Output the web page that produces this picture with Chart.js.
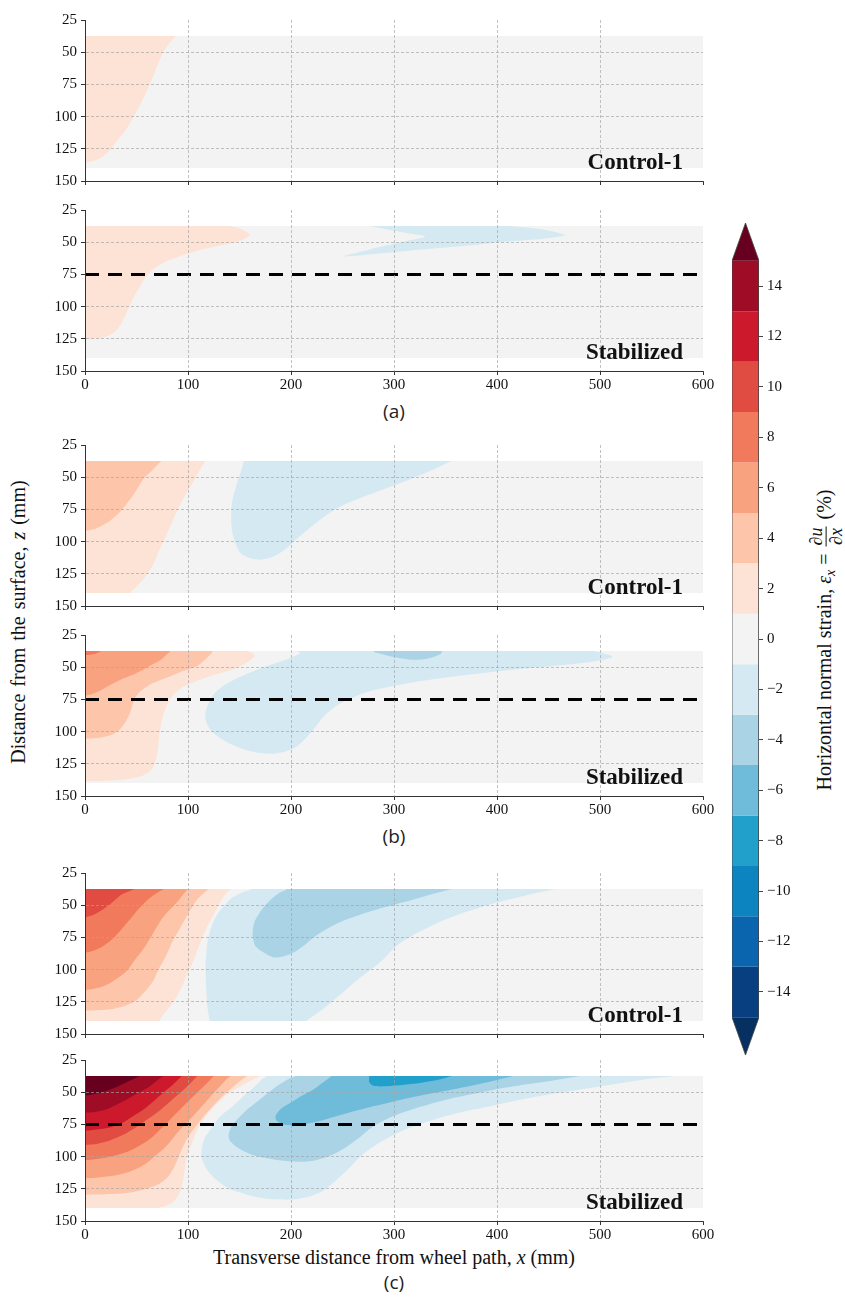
<!DOCTYPE html>
<html>
<head>
<meta charset="utf-8">
<script src="https://cdn.jsdelivr.net/npm/chart.js@4.4.1/dist/chart.umd.min.js"></script>
<style>
  html, body { margin: 0; padding: 0; background: #fff; }
  body { width: 845px; height: 1308px; position: relative; overflow: hidden;
         font-family: "Liberation Serif", "Times New Roman", serif; color: #111; }
  canvas { position: absolute; }
  .txt { position: absolute; white-space: nowrap; transform: translate(-50%, -50%); }
  .cap { font-family: "Open Sans", "Noto Sans", sans-serif; font-size: 19px; color: #222; }
  .axt { font-size: 20px; color: #111; }
  .rot { transform: translate(-50%, -50%) rotate(-90deg); }
  .frac { display: inline-block; vertical-align: middle; text-align: center; font-size: 18px; line-height: 1.05; margin: 0 2px; }
  .frac span { display: block; padding: 0 1px; }
  .frac .num { border-bottom: 1px solid #111; }
  sub { font-size: 14px; vertical-align: -4px; line-height: 0; }
</style>
</head>
<body>
<div class="txt cap" style="left:394px; top:411px;">(a)</div>
<div class="txt cap" style="left:394px; top:836px;">(b)</div>
<div class="txt cap" style="left:394px; top:1282px;">(c)</div>
<div class="txt axt" style="left:394px; top:1257px;">Transverse distance from wheel path, <i>x</i> (mm)</div>
<div class="txt axt rot" style="left:18px; top:622px; word-spacing:2px;">Distance from the surface, <i>z</i> (mm)</div>
<div class="txt axt rot" style="left:826px; top:640px;">Horizontal normal strain, <i>ε</i><sub><i>x</i></sub> = <span class="frac"><span class="num">∂<i>u</i></span><span>∂<i>x</i></span></span> (%)</div>

<script>
// ---- axes ----
const X_TICKS = [0, 100, 200, 300, 400, 500, 600];
const Z_TICKS = [25, 50, 75, 100, 125, 150];
const FIELD_X = [0, 600];      // extent of the measured strain field
const FIELD_Z = [37.5, 140];
const INTERFACE_Z = 75;        // stabilized layer boundary depth (mm)
const CBAR_TICKS = [-14, -12, -10, -8, -6, -4, -2, 0, 2, 4, 6, 8, 10, 12, 14];
const BAND_CENTRES = [-16, -14, -12, -10, -8, -6, -4, -2, 0, 2, 4, 6, 8, 10, 12, 14, 16];

// ---- contour boundaries, [x (mm), z (mm)] ----
// (a) Control-1
const A_CTRL_P2 = [[88,37.5],[82,43],[76,50],[70,61],[64,73],[56,87],[48,99],[40,110],[32,118],[23,127],[13,133],[4,135.3],[0,135.5]];
// (a) Stabilized
const A_STAB_P2 = [[141,37.5],[152,40],[160,44.5],[152,48.5],[135,52],[112,56],[92,61],[74,67],[61,75],[52,86],[44,98],[38,109],[30,119],[18,124],[8,125],[0,125]];
const A_STAB_N2 = [[413,37.5],[445,40.3],[466,44.5],[445,47.3],[413,49.3],[367,53],[330,55.5],[303,57.5],[270,60],[251,61],[268,57.5],[290,53],[312,49],[330,45.5],[312,42.8],[295,40.3],[280,38],[277,37.5]];
// (b) Control-1
const B_CTRL_P2 = [[117,37.5],[111,45],[104,55],[98,63],[92,72],[85,84],[79,95],[72,107],[66,118],[58,128],[50,135],[44,140]];
const B_CTRL_P4 = [[74,37.5],[65,45],[57,51],[50,60],[44,67],[35,76],[27,82],[18,87],[10,90],[0,91.5]];
const B_CTRL_N2 = [[356,37.5],[330,47],[308,54],[285,61],[265,67],[250,72],[239,77],[225,85],[213,93],[204,99],[196,105],[187,110],[178,113],[170,114],[163,113.5],[155,111],[150,108],[146,101],[143,93],[142,85],[142,77],[143,68],[146,59],[149,51],[152,44],[154,37.5]];
// (b) Stabilized
const B_STAB_P2 = [[158,37.5],[165,41],[158,46],[144,51.5],[125,56],[104,62],[90,68],[81,77],[75,90],[72,104],[70,118],[65,129],[55,134.5],[40,137],[20,138.2],[0,138.5]];
const B_STAB_P4 = [[124,37.5],[122,40],[109,49],[95,53],[83,57],[70,61],[61,64.5],[52,70],[47,77],[44,85],[39,93],[33,99],[24,103],[12,105],[0,105.4]];
const B_STAB_P6 = [[83,37.5],[74,44],[65,48],[57,51.8],[46,56],[35,59.5],[24,64],[15,68],[6,71],[0,72]];
const B_STAB_P8 = [[16,37.5],[11,39.3],[5,40.3],[0,40.5]];
const B_STAB_N2 = [[495,37.5],[512,42],[480,47],[415,52],[350,58],[310,63],[275,69],[248,78],[232,88],[220,100],[205,112],[185,117],[165,116],[148,112],[135,107],[122,99],[117,90],[118,82],[124,72],[135,64],[152,57],[170,51],[188,46],[202,42],[209,39],[206,37.5]];
const B_STAB_N4 = [[347,37.5],[345,40],[332,43.5],[318,44.2],[302,42.5],[288,39.8],[280,37.5]];
// (c) Control-1
const C_CTRL_P2 = [[141.6,37.5],[137,41],[133,45.4],[125,57],[117.7,68.4],[111,81],[104.8,94],[98,106],[91.8,117],[85,126],[79,132],[75,136],[72.3,140]];
const C_CTRL_P4 = [[120,37.5],[115,41],[109,45.4],[100,57],[91.8,68.4],[85,78],[79,88.8],[72,99],[66,109],[57,118],[48.5,124.5],[35,129],[22.5,131],[0,132]];
const C_CTRL_P6 = [[100,37.5],[96,41],[91.8,45.4],[83,53],[74.5,60.7],[66,72],[57,83.7],[48,93],[40,101.5],[29,108],[18,113],[8,115],[0,115.6]];
const C_CTRL_P8 = [[76.6,37.5],[69,41],[61.5,45.4],[52,53],[44,60.7],[35,69],[27,76],[18,81.5],[9.5,85],[0,86.7]];
const C_CTRL_P10 = [[48.5,37.5],[42,39.5],[35.5,41.6],[29,46],[22.5,50.5],[15,54.5],[9.5,57],[0,59.4]];
const C_CTRL_N2 = [[457.6,37.5],[430,42],[395,49],[360,58],[330,68.4],[305,80],[287,94],[266,107],[248,119.4],[232,130],[220,137],[215,140],[213,147],[121,147],[121,140],[119,130],[117.7,114],[117,100],[117.7,88.8],[119,78],[122,68.4],[127,59],[135,50.5],[143,44],[152,40.3],[161,37.5]];
const C_CTRL_N4 = [[356,37.5],[330,43],[308,48],[285,53],[265,58],[248,63],[234.6,68.4],[222,75],[213,81],[202,87],[191.3,90],[184,90.5],[178,88.8],[170,85],[165,81],[163,75],[163,68.4],[165,62],[169.7,55.6],[175,50],[182.7,44],[189,40.3],[195.7,37.5]];
// (c) Stabilized
const C_STAB_P2 = [[170,37.5],[160,41.5],[150,46],[140,50.5],[133,55],[120,66],[110,78],[103,91],[98,103],[96,115],[93,126],[87,134],[78,138.5],[72,140]];
const C_STAB_P4 = [[157.5,37.5],[151,41],[144.5,45.4],[131,55],[118.5,65.8],[108,76],[99,86.2],[92,98],[86,109],[79,117],[69.8,122],[55,126],[40.6,128.3],[20,129.3],[0,129.6]];
const C_STAB_P6 = [[141,37.5],[135,42],[128,48],[115,59.5],[102,71],[90,81],[79.5,91.3],[68,99.5],[57,106.6],[44,111.5],[31,114.3],[15,116],[0,116.8]];
const C_STAB_P8 = [[125,37.5],[119,42.5],[112,48],[99,58],[86,68.4],[75,77.5],[63.3,86.2],[52,92],[40.6,96.4],[27,99.5],[14.6,101.5],[0,102.8]];
const C_STAB_P10 = [[109,37.5],[103,42.5],[96,48],[83,57],[70,65.8],[58,72.5],[47,78.6],[36,83.5],[24,87.5],[12,90],[0,90.8]];
const C_STAB_P12 = [[94,37.5],[88,42],[79.5,48],[68,56],[57,63.3],[47,68.5],[37,73.5],[26,77],[14.6,78.6],[0,80]];
const C_STAB_P14 = [[76,37.5],[70,41],[63,45.4],[52,50.5],[40.6,55.6],[31,59.5],[21,63.3],[10,65.3],[0,65.8]];
const C_STAB_P16 = [[53,37.5],[45,40.5],[36,44],[26,47.5],[15,50.5],[6,52],[0,52.5]];
const C_STAB_N2 = [[572,37.5],[540,40.5],[481,48],[435,54],[394.8,60.7],[360,66.5],[330,73.5],[305,81],[286.6,88.8],[270,98],[256.3,109],[243,119],[230,127],[215,131.5],[200,133.4],[185,133.2],[169.7,132],[155,129],[139.4,124.5],[126,117],[117.7,109],[113.4,101],[113.4,93.9],[116,86],[122,78.6],[131,69],[143.7,60.7],[154,53],[165,45.4],[171,40.5],[176,37.5]];
const C_STAB_N4 = [[481,37.5],[450,41.5],[416,45.4],[385,50],[351.5,55.6],[325,61.5],[299.6,68.4],[280,76.5],[265,86.2],[252,93.5],[239,99],[226,102.5],[213,104],[195,103.5],[178,101.5],[162,98.5],[150,94],[141,88],[139.4,83.7],[142,77],[148,71],[158,63],[169.7,55.6],[180,49],[191,42.9],[198,39.5],[204,37.5]];
const C_STAB_N6 = [[416,37.5],[395,41.5],[373,45.4],[340,50.5],[308,55.6],[280,61],[256,66],[238,70],[221.6,73.5],[205,75.3],[192,75],[186,72],[185,68.4],[190,63],[200,58],[210,53],[221.6,48],[230,43],[236,39.5],[239,37.5]];
const C_STAB_N8 = [[356,37.5],[345,40],[328,42.5],[310,44.3],[292,45.4],[280,45],[276,42],[276,37.5]];

// ---- palette (diverging red/blue, one colour per band) ----
const BAND_COLORS = ['#053061', '#083f80', '#0b64ae', '#0b84bf', '#22a0cc', '#6fbcda', '#aad4e6', '#d5e9f2',
                     '#f3f3f3',
                     '#fde3d5', '#fdc5aa', '#f9a27f', '#f17a5c', '#e04b42', '#cc1a2c', '#9e0d25', '#67001f'];
const colorFor = lvl => BAND_COLORS[BAND_CENTRES.indexOf(lvl)];

// ---- panels ----
const PANELS = [
  { top: 17,   label: 'Control-1',  stab: false, xLabels: false, regions: [[2, A_CTRL_P2]] },
  { top: 207,  label: 'Stabilized', stab: true,  xLabels: true,  regions: [[2, A_STAB_P2], [-2, A_STAB_N2]] },
  { top: 442,  label: 'Control-1',  stab: false, xLabels: false, regions: [[2, B_CTRL_P2], [4, B_CTRL_P4], [-2, B_CTRL_N2]] },
  { top: 632,  label: 'Stabilized', stab: true,  xLabels: true,
    regions: [[2, B_STAB_P2], [4, B_STAB_P4], [6, B_STAB_P6], [8, B_STAB_P8], [-2, B_STAB_N2], [-4, B_STAB_N4]] },
  { top: 870,  label: 'Control-1',  stab: false, xLabels: false,
    regions: [[2, C_CTRL_P2], [4, C_CTRL_P4], [6, C_CTRL_P6], [8, C_CTRL_P8], [10, C_CTRL_P10], [-2, C_CTRL_N2], [-4, C_CTRL_N4]] },
  { top: 1057, label: 'Stabilized', stab: true,  xLabels: true,
    regions: [[2, C_STAB_P2], [4, C_STAB_P4], [6, C_STAB_P6], [8, C_STAB_P8], [10, C_STAB_P10], [12, C_STAB_P12], [14, C_STAB_P14], [16, C_STAB_P16],
              [-2, C_STAB_N2], [-4, C_STAB_N4], [-6, C_STAB_N6], [-8, C_STAB_N8]] },
];

const SERIF = '"Liberation Serif", "Times New Roman", serif';
Chart.defaults.font.family = SERIF;
Chart.defaults.font.size = 15;
Chart.defaults.color = '#111';

// Close a boundary curve around the outside of the field so it can be filled as a shape.
function toPolygon(curve) {
  const pts = curve.map(([x, z]) => ({ x, y: z }));
  const first = curve[0], last = curve[curve.length - 1];
  const above = FIELD_Z[0] - 8, below = FIELD_Z[1] + 8, outside = FIELD_X[0] - 15;
  if (last[1] >= FIELD_Z[1]) pts.push({ x: last[0], y: below }, { x: outside, y: below }, { x: outside, y: above });
  else if (last[0] <= FIELD_X[0]) pts.push({ x: outside, y: last[1] }, { x: outside, y: above });
  else pts.push({ x: last[0], y: above });
  pts.push({ x: first[0], y: above });
  return pts;
}

// Restrict the filled bands to the measured field rectangle.
const fieldClip = {
  id: 'fieldClip',
  beforeDatasetsDraw(chart) {
    const { x, y } = chart.scales, ctx = chart.ctx;
    const l = x.getPixelForValue(FIELD_X[0]), r = x.getPixelForValue(FIELD_X[1]);
    const t = y.getPixelForValue(FIELD_Z[0]), b = y.getPixelForValue(FIELD_Z[1]);
    ctx.save();
    ctx.beginPath();
    ctx.rect(l, t, r - l, b - t);
    ctx.clip();
  },
  afterDatasetsDraw(chart) { chart.ctx.restore(); }
};

const panelTag = {
  id: 'panelTag',
  afterDraw(chart, args, opts) {
    const { ctx, chartArea } = chart;
    ctx.save();
    ctx.font = 'bold 23px ' + SERIF;
    ctx.fillStyle = '#111';
    ctx.textAlign = 'right';
    ctx.textBaseline = 'alphabetic';
    ctx.fillText(opts.text, chartArea.right - 20, chartArea.bottom - 12);
    ctx.restore();
  }
};

const GRID = 'rgba(165,165,165,0.85)';
const NONE = 'rgba(0,0,0,0)';
const TICK_FONT = { family: SERIF, size: 15 };

function makePanel(p) {
  const cv = document.createElement('canvas');
  const W = 720, H = 202;
  cv.width = W; cv.height = H;
  cv.style.left = '0px';
  cv.style.top = (p.top - 10) + 'px';
  cv.style.width = W + 'px'; cv.style.height = H + 'px';
  document.body.appendChild(cv);

  const ds = [];
  ds.push({ data: [{ x: FIELD_X[0], y: FIELD_Z[0] }, { x: FIELD_X[1], y: FIELD_Z[0] }, { x: FIELD_X[1], y: FIELD_Z[1] }, { x: FIELD_X[0], y: FIELD_Z[1] }],
            backgroundColor: colorFor(0), borderWidth: 0, fill: 'shape', tension: 0, pointRadius: 0 });
  for (const [lvl, curve] of p.regions) {
    ds.push({ data: toPolygon(curve), backgroundColor: colorFor(lvl), borderColor: NONE, borderWidth: 0,
              fill: 'shape', tension: 0.3, pointRadius: 0 });
  }
  if (p.stab) {
    ds.push({ data: [{ x: FIELD_X[0], y: INTERFACE_Z }, { x: FIELD_X[1], y: INTERFACE_Z }],
              borderColor: '#000', borderWidth: 3, borderDash: [14, 9], fill: false, tension: 0, pointRadius: 0 });
  }
  // earlier datasets are painted last by Chart.js, so order them bottom-up explicitly
  ds.forEach((d, i) => { d.order = ds.length - i; });

  const gridOpts = (keep) => ({
    z: 1,
    color: c => (c.tick && keep(c.tick.value)) ? GRID : NONE,
    lineWidth: 0.8, tickBorderDash: [], tickColor: '#333', tickWidth: 1, tickLength: 4
  });
  const borderOpts = { display: true, color: '#333', width: 1, z: 1, dash: [3, 2] };

  new Chart(cv, {
    type: 'line',
    data: { datasets: ds },
    plugins: [fieldClip, panelTag],
    options: {
      responsive: false, animation: false, devicePixelRatio: 1,
      layout: { padding: { left: 0, right: 17, top: 10, bottom: 0 } },
      plugins: { legend: { display: false }, tooltip: { enabled: false }, panelTag: { text: p.label } },
      scales: {
        x: {
          type: 'linear', min: 0, max: 600,
          afterBuildTicks: s => { s.ticks = X_TICKS.map(v => ({ value: v })); },
          afterFit: s => { s.height = 28; },
          grid: gridOpts(v => v > 0 && v < 600),
          border: borderOpts,
          ticks: { z: 1, display: p.xLabels, maxRotation: 0, autoSkip: false, padding: 1, color: '#111', font: TICK_FONT, callback: v => String(v) }
        },
        y: {
          type: 'linear', min: 25, max: 150, reverse: true,
          afterBuildTicks: s => { s.ticks = Z_TICKS.map(v => ({ value: v })); },
          afterFit: s => { s.width = 85; },
          // the interface line already marks z = 75 in the stabilized panels
          grid: gridOpts(v => v > 25 && v < 150 && !(p.stab && v === INTERFACE_Z)),
          border: borderOpts,
          ticks: { z: 1, autoSkip: false, padding: 4, color: '#111', font: TICK_FONT, callback: v => String(v) }
        }
      }
    }
  });
}
PANELS.forEach(makePanel);

// ---- colour bar ----
(function makeColorbar() {
  const cv = document.createElement('canvas');
  const W = 145, H = 860;
  cv.width = W; cv.height = H;
  cv.style.left = '700px'; cv.style.top = '210px';
  cv.style.width = W + 'px'; cv.style.height = H + 'px';
  document.body.appendChild(cv);

  const lo = CBAR_TICKS[0] - 1, hi = CBAR_TICKS[CBAR_TICKS.length - 1] + 1;   // -15 .. 15
  const tip = 1.5;
  const ds = [];
  BAND_CENTRES.forEach((c, i) => {
    let pts;
    if (c < lo) pts = [{ x: 0, y: lo }, { x: 1, y: lo }, { x: 0.5, y: lo - tip }];
    else if (c > hi) pts = [{ x: 0, y: hi }, { x: 1, y: hi }, { x: 0.5, y: hi + tip }];
    else pts = [{ x: 0, y: c - 1 }, { x: 1, y: c - 1 }, { x: 1, y: c + 1 }, { x: 0, y: c + 1 }];
    ds.push({ data: pts, backgroundColor: BAND_COLORS[i], borderWidth: 0, fill: 'shape', tension: 0, pointRadius: 0 });
  });
  ds.push({ data: [{ x: 0, y: lo }, { x: 0, y: hi }, { x: 0.5, y: hi + tip }, { x: 1, y: hi }, { x: 1, y: lo }, { x: 0.5, y: lo - tip }, { x: 0, y: lo }],
            borderColor: '#444', borderWidth: 0.8, fill: false, tension: 0, pointRadius: 0 });
  ds.forEach((d, i) => { d.order = ds.length - i; });

  new Chart(cv, {
    type: 'line',
    data: { datasets: ds },
    options: {
      responsive: false, animation: false, devicePixelRatio: 1,
      layout: { padding: { left: 32, right: 0, top: 13, bottom: 15 } },
      plugins: { legend: { display: false }, tooltip: { enabled: false } },
      scales: {
        x: { type: 'linear', min: 0, max: 1, display: false },
        y: {
          type: 'linear', position: 'right', min: lo - tip, max: hi + tip,
          afterBuildTicks: s => { s.ticks = CBAR_TICKS.map(v => ({ value: v })); },
          afterFit: s => { s.width = 86; },
          grid: { display: true, drawOnChartArea: false, drawTicks: true, tickLength: 4, tickColor: '#444', tickWidth: 1 },
          border: { display: false },
          ticks: { autoSkip: false, padding: 4, color: '#111', font: TICK_FONT, callback: v => (v < 0 ? '\u2212' + Math.abs(v) : String(v)) }
        }
      }
    }
  });
})();
</script>
</body>
</html>
